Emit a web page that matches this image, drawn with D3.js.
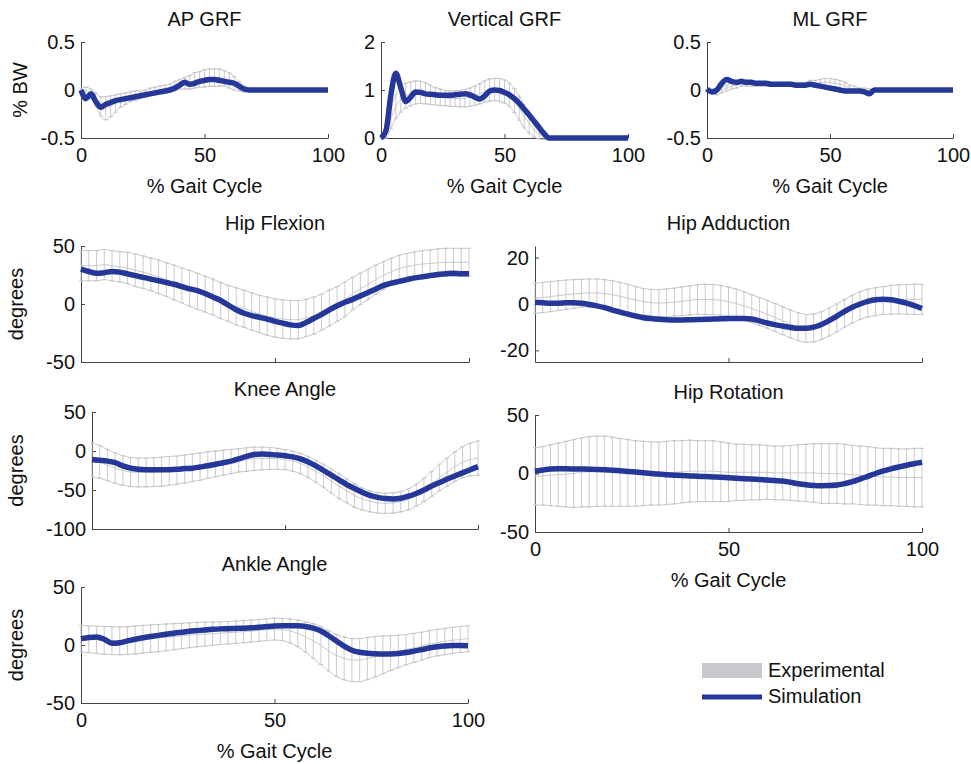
<!DOCTYPE html>
<html>
<head>
<meta charset="utf-8">
<script src="https://cdn.jsdelivr.net/npm/d3@7"></script>
<style>
  body { margin: 0; background: #fff; }
  svg text { font-family: "Liberation Sans", Arial, Helvetica, sans-serif; fill: #111; }
</style>
</head>
<body>
<div id="chart"></div>
<script>
// % gait cycle, sampled every 2 %
const pct = [0,2,4,6,8,10,12,14,16,18,20,22,24,26,28,30,32,34,36,38,40,42,44,46,48,
  50,52,54,56,58,60,62,64,66,68,70,72,74,76,78,80,82,84,86,88,90,92,94,96,98,100];

const titles = ['AP GRF', 'Vertical GRF', 'ML GRF', 'Hip Flexion', 'Hip Adduction',
  'Knee Angle', 'Hip Rotation', 'Ankle Angle'];
const legendLabels = ['Experimental', 'Simulation'];
const xTicks = [0, 50, 100];

// ground reaction forces (% BW); experimental data only during stance (0-68 %)
const apSim = [0,-0.09,-0.04,-0.12,-0.18,-0.15,-0.13,-0.11,-0.10,-0.09,-0.08,-0.07,-0.06,-0.05,-0.04,
  -0.03,-0.02,-0.01,0,0.02,0.05,0.08,0.06,0.07,0.09,0.10,0.11,0.11,0.10,0.09,0.08,0.07,0.04,0.01,0,
  0,0,0,0,0,0,0,0,0,0,0,0,0,0,0,0];
const apExpMean = [0,-0.01,-0.04,-0.10,-0.17,-0.19,-0.17,-0.14,-0.11,-0.09,-0.07,-0.06,-0.05,-0.04,
  -0.02,-0.01,0,0.01,0.02,0.04,0.06,0.07,0.08,0.10,0.11,0.12,0.13,0.13,0.13,0.12,0.10,0.07,0.04,0.01,0];
const apExpSd = [0.02,0.04,0.05,0.07,0.10,0.12,0.11,0.09,0.07,0.06,0.05,0.05,0.04,0.04,0.04,0.04,
  0.04,0.04,0.04,0.05,0.05,0.06,0.07,0.08,0.08,0.09,0.09,0.09,0.09,0.08,0.08,0.07,0.05,0.03,0.01];

const vgSim = [0,0.15,0.9,1.35,1.05,0.76,0.85,0.96,0.95,0.92,0.91,0.9,0.89,0.89,0.89,0.9,0.91,0.92,
  0.9,0.85,0.81,0.88,0.98,1.0,0.99,0.95,0.9,0.82,0.72,0.6,0.48,0.35,0.22,0.09,0,
  0,0,0,0,0,0,0,0,0,0,0,0,0,0,0,0];
const vgExpMean = [0,0.1,0.4,0.65,0.8,0.88,0.92,0.95,0.95,0.93,0.9,0.87,0.85,0.83,0.82,0.82,0.82,
  0.83,0.85,0.88,0.92,0.97,1.0,1.01,1.0,0.97,0.9,0.78,0.62,0.45,0.3,0.17,0.08,0.02,0];
const vgExpSd = [0.02,0.1,0.2,0.25,0.26,0.26,0.25,0.24,0.23,0.22,0.2,0.18,0.17,0.16,0.16,0.16,0.17,
  0.18,0.19,0.2,0.21,0.22,0.23,0.23,0.24,0.24,0.24,0.25,0.25,0.24,0.2,0.15,0.1,0.05,0.01];

const mlSim = [0.01,-0.02,0,0.07,0.11,0.09,0.08,0.09,0.08,0.08,0.07,0.07,0.07,0.06,0.06,0.06,0.06,
  0.06,0.05,0.05,0.05,0.06,0.05,0.04,0.03,0.02,0.01,0,-0.01,-0.01,-0.01,-0.01,-0.02,-0.04,0,
  0,0,0,0,0,0,0,0,0,0,0,0,0,0,0,0];
const mlExpMean = [0,-0.01,-0.02,0,0.02,0.04,0.05,0.06,0.06,0.06,0.06,0.06,0.06,0.06,0.06,0.06,0.06,
  0.06,0.06,0.06,0.06,0.07,0.07,0.08,0.08,0.08,0.07,0.06,0.04,0.02,0.01,0,0,0,0];
const mlExpSd = [0.01,0.02,0.03,0.03,0.03,0.03,0.03,0.02,0.02,0.02,0.02,0.02,0.02,0.02,0.02,0.02,
  0.02,0.02,0.02,0.02,0.02,0.03,0.03,0.03,0.04,0.04,0.04,0.04,0.04,0.03,0.03,0.02,0.02,0.01,0.01];

// joint angles (degrees)
const hfSim = [30,28,26.5,27,28,27.5,26,24.5,23,21.5,20,18.5,17,15,13,11.5,9,6,3,-1,-5,-8,-10,-11.5,
  -13,-15,-16.5,-18,-18.5,-16,-12.5,-9,-5,-1.5,1.5,4,7,10,13,16,18,19.5,21,22.5,23.5,24.5,25.5,26,
  26.5,26,26];
const hfExpMean = [33,33,33,34,33,32,31,29,27.5,25.5,23.5,21,18.5,16,13.5,11,8.5,6,3,0.5,-2,-4,-6.5,
  -8.5,-10.5,-12,-13,-13.5,-13.5,-12,-10,-7,-3.5,0,4,9,13,17,21,24.5,28,30.5,32,33.5,34.5,35,35.5,
  36,36,36,36];
const hfExpSd = [13,13,13,13,13,13,13.5,14,14,14,14.5,14.5,15,15,15.5,15.5,15.5,15.5,15.5,15.5,16,16,
  16,16,16.5,16.5,16.5,16.5,16.5,16,16,15.5,15.5,15,15,14,13.5,13,12.5,12,11.5,11.5,11.5,11.5,11.5,
  11.5,12,12,12,12,12];

const haSim = [0.7,0.5,0.3,0.3,0.5,0.5,0.3,-0.2,-0.8,-1.6,-2.6,-3.5,-4.4,-5.2,-5.9,-6.3,-6.6,-6.8,
  -6.9,-6.9,-6.8,-6.7,-6.6,-6.5,-6.4,-6.3,-6.2,-6.2,-6.5,-7.3,-8.2,-8.9,-9.5,-10.1,-10.5,-10.5,-10,
  -8.8,-7.2,-5.2,-3.2,-1.4,0,1.1,1.8,2,1.8,1.2,0.4,-0.7,-1.9];
const haExpMean = [2.5,2.8,3.2,3.6,4,4.3,4.6,4.8,4.8,4.5,4,3.3,2.5,1.7,1,0.6,0.4,0.5,0.8,1.2,1.6,1.9,
  2,1.9,1.6,1,0.2,-0.8,-2,-3.2,-4.4,-5.8,-7.2,-8.6,-9.8,-10.5,-10.3,-9.3,-7.8,-6,-4,-2.2,-0.7,0.4,
  1,1.5,1.8,2,2,2,2];
const haExpSd = [6.5,6.5,6.5,6.4,6.3,6.2,6,6,6,6,6,6,6,5.8,5.7,5.7,5.8,6,6,6.2,6.3,6.4,6.5,6.5,6.4,
  6.3,6.2,6.1,6,6,6,6,6,6,6,6,6,6,6,6,6,6,6,6,6,6,6.2,6.3,6.4,6.5,6.5];

const kneeSim = [-11,-12,-13,-15,-19,-22,-23.5,-24,-24,-24,-24,-23.5,-22.5,-22,-20.5,-19,-17,-15,-13,
  -10,-7,-4.5,-4,-4.5,-5,-6,-7.5,-10,-14,-19,-25,-31,-37,-43,-48,-53,-57,-59.5,-61,-61.5,-60.5,-58,
  -54.5,-50,-45,-40.5,-36,-32,-28,-24,-20];
const kneeExpMean = [-11,-14,-18,-22,-25,-27,-27.5,-27.5,-27,-26.5,-25.5,-24.5,-23,-21.5,-20,-18,
  -16.5,-15,-13.5,-12,-11,-10,-9.5,-9.5,-10,-11,-13,-16,-20.5,-26,-32,-38.5,-45,-51,-57,-61.5,-64.5,
  -66.5,-67,-66.5,-65,-62,-56.5,-50,-42,-34,-27,-20,-14.5,-11,-9];
const kneeExpSd = [22,21,20,19.5,19,18.5,18.5,18.5,18.5,18.5,18.5,18,18,17.5,17.5,17,16.5,16,15.5,15,
  15,15,14.5,14,13.5,13,13,13,13.5,14,15,15.5,16,15.5,15,14,13.5,13,13,13,13,13.5,14,15,16,17,18,19,
  20,21,22];

const hrSim = [2,3,3.8,4,4,3.9,3.8,3.7,3.5,3.2,2.8,2.3,1.8,1.2,0.6,0,-0.5,-1,-1.4,-1.8,-2.1,-2.4,-2.6,
  -2.9,-3.2,-3.6,-4,-4.4,-4.8,-5.2,-5.6,-6,-6.5,-7.5,-8.7,-9.6,-10.2,-10.4,-10.3,-9.8,-8.7,-7,-4.8,
  -2.4,0,2.2,4,5.6,7.1,8.4,9.6];
const hrExpMean = [-2.5,-2,-1.5,-1,-0.5,0,1,1.5,2,2,1.5,1,0.5,0,0,0,0,0.5,1,1.5,2,2,2,2,1.5,1,1,1,1,
  1,1,0.5,0.5,0.5,0.5,0.5,0.5,0,0,0,-0.5,-1,-1.5,-2,-2.5,-3,-3,-3.5,-3.5,-3.5,-3.5];
const hrExpSd = [24.5,25,26,27,28,29,29.5,30,30,30,29.5,29,28.5,28,27.5,27,27,27,27,26.5,26.5,26,26,
  26,25.5,25,24,24,23.5,23.5,23,23,23,23.5,24,24.5,25,25.5,25.5,25.5,25.5,25,25,25,24.5,24.5,24.5,
  24.5,24.5,25,25];

const ankleSim = [5.5,6.5,7,5,1.5,2,3.5,5,6.2,7.3,8.3,9.2,10.2,11,11.8,12.4,13,13.5,13.9,14.1,14.3,
  14.5,14.8,15.3,15.9,16.4,16.6,16.7,16.6,16,14.5,12,8,3.5,-1,-4.5,-6.3,-7.2,-7.6,-7.8,-7.7,-7.3,
  -6.5,-5.3,-4,-2.6,-1.5,-0.8,-0.5,-0.5,-0.6];
const ankleExpMean = [5.5,5,4.5,4,3.7,3.6,3.8,4.3,5,5.5,6,6.6,7.2,7.8,8.4,9,9.4,9.8,10.2,10.6,11,11.5,
  12,12.6,13.2,13.7,13.4,12.2,10,7,3.5,-0.5,-5,-9,-11.5,-13,-13,-11.7,-10.2,-8.5,-7,-5.5,-4,-2.5,
  -1,0.8,2,3,4,4.8,5.5];
const ankleExpSd = [11.5,11.5,11.8,12,12,12,12,12,11.9,11.8,11.7,11.5,11.2,11,10.7,10.5,10.3,10,9.8,
  9.7,9.6,9.5,9.5,9.4,9.4,9.4,9.6,10.3,11.5,13,15,16.3,17.5,18.2,18.5,18.5,18.5,18.2,17.5,16.3,15,
  14,13,12.5,12,11.6,11.4,11.3,11.2,11.2,11.2];

const width = 971, height = 764;
const simColor = '#26379a';
const expColor = '#c4c4c4';
const axisColor = '#444';
const fontSize = 20;

const panels = [
  { sim: apSim, mean: apExpMean, sd: apExpSd, yDomain: [-0.5, 0.5], yTicks: [-0.5, 0, 0.5],
    left: 81, top: 42, w: 247, h: 96, xLabels: true, yLabel: '% BW', yLabelX: 27 },
  { sim: vgSim, mean: vgExpMean, sd: vgExpSd, yDomain: [0, 2], yTicks: [0, 1, 2],
    left: 381, top: 42, w: 247, h: 96, xLabels: true },
  { sim: mlSim, mean: mlExpMean, sd: mlExpSd, yDomain: [-0.5, 0.5], yTicks: [-0.5, 0, 0.5],
    left: 707, top: 42, w: 246, h: 96, xLabels: true },
  { sim: hfSim, mean: hfExpMean, sd: hfExpSd, yDomain: [-50, 50], yTicks: [-50, 0, 50],
    left: 81, top: 246, w: 388, h: 116, xLabels: false, yLabel: 'degrees', yLabelX: 23 },
  { sim: haSim, mean: haExpMean, sd: haExpSd, yDomain: [-25, 25], yTicks: [-20, 0, 20],
    left: 535, top: 246, w: 387, h: 116, xLabels: false },
  { sim: kneeSim, mean: kneeExpMean, sd: kneeExpSd, yDomain: [-100, 50], yTicks: [-100, -50, 0, 50],
    left: 92, top: 412, w: 386, h: 117, xLabels: false, yLabel: 'degrees', yLabelX: 23 },
  { sim: hrSim, mean: hrExpMean, sd: hrExpSd, yDomain: [-50, 50], yTicks: [-50, 0, 50],
    left: 535, top: 415, w: 387, h: 117, xLabels: true },
  { sim: ankleSim, mean: ankleExpMean, sd: ankleExpSd, yDomain: [-50, 50], yTicks: [-50, 0, 50],
    left: 81, top: 587, w: 387, h: 116, xLabels: true, yLabel: 'degrees', yLabelX: 23 }
];

const svg = d3.select('#chart').append('svg')
  .attr('width', width)
  .attr('height', height);

function styleAxis(sel) {
  sel.selectAll('.domain').attr('stroke', axisColor).attr('stroke-width', 1);
  sel.selectAll('.tick line').attr('stroke', axisColor).attr('stroke-width', 1);
  sel.selectAll('.tick text').attr('font-size', fontSize).attr('fill', '#111')
    .attr('font-family', '"Liberation Sans", Arial, sans-serif');
}

panels.forEach((p, idx) => {
  const x = d3.scaleLinear().domain([0, 100]).range([0, p.w]);
  const y = d3.scaleLinear().domain(p.yDomain).range([p.h, 0]);
  const g = svg.append('g').attr('transform', `translate(${p.left},${p.top})`);

  // axes (MATLAB style: left and bottom only, ticks pointing in)
  const xAxis = d3.axisBottom(x).tickValues(xTicks).tickSize(-4).tickSizeOuter(0).tickPadding(10)
    .tickFormat(p.xLabels ? (d => String(d)) : () => '');
  const yAxis = d3.axisLeft(y).tickValues(p.yTicks).tickSize(-4).tickSizeOuter(0).tickPadding(6)
    .tickFormat(d => String(d));
  g.append('g').attr('transform', `translate(0,${p.h})`).call(xAxis).call(styleAxis);
  g.append('g').call(yAxis).call(styleAxis);

  // experimental mean +/- sd as error bars
  const exp = p.mean.map((m, i) => ({ x: pct[i], m: m, lo: m - p.sd[i], hi: m + p.sd[i] }));
  const eg = g.append('g').attr('stroke', expColor).attr('stroke-width', 0.9).attr('fill', 'none');
  eg.selectAll('line.bar').data(exp).join('line').attr('class', 'bar')
    .attr('x1', d => x(d.x)).attr('x2', d => x(d.x))
    .attr('y1', d => y(d.lo)).attr('y2', d => y(d.hi));
  ['lo', 'hi'].forEach(k => {
    eg.selectAll('line.cap-' + k).data(exp).join('line').attr('class', 'cap-' + k)
      .attr('x1', d => x(d.x) - 2).attr('x2', d => x(d.x) + 2)
      .attr('y1', d => y(d[k])).attr('y2', d => y(d[k]));
  });
  ['m', 'lo', 'hi'].forEach(k => {
    eg.append('path').datum(exp)
      .attr('d', d3.line().x(d => x(d.x)).y(d => y(d[k])).curve(d3.curveMonotoneX));
  });

  // simulation
  g.append('path').datum(p.sim.map((v, i) => ({ x: pct[i], v: v })))
    .attr('fill', 'none').attr('stroke', simColor).attr('stroke-width', 5.5)
    .attr('stroke-linejoin', 'round').attr('stroke-linecap', 'butt')
    .attr('d', d3.line().x(d => x(d.x)).y(d => y(d.v)).curve(d3.curveMonotoneX));

  // title
  g.append('text').attr('x', p.w / 2).attr('y', -16).attr('text-anchor', 'middle')
    .attr('font-size', fontSize).text(titles[idx]);

  if (p.xLabels) {
    g.append('text').attr('x', p.w / 2).attr('y', p.h + 55).attr('text-anchor', 'middle')
      .attr('font-size', fontSize).text('% Gait Cycle');
  }
  if (p.yLabel) {
    svg.append('text')
      .attr('transform', `translate(${p.yLabelX},${p.top + p.h / 2}) rotate(-90)`)
      .attr('text-anchor', 'middle').attr('font-size', fontSize).text(p.yLabel);
  }
});

// legend
const lg = svg.append('g').attr('transform', 'translate(702,663)');
lg.append('rect').attr('x', 0).attr('y', 0).attr('width', 60).attr('height', 15).attr('fill', '#c9c9cd');
lg.append('line').attr('x1', 0).attr('x2', 60).attr('y1', 34).attr('y2', 34)
  .attr('stroke', simColor).attr('stroke-width', 5);
lg.selectAll('text.leg').data(legendLabels).join('text').attr('class', 'leg')
  .attr('x', 66).attr('y', (d, i) => 14 + i * 26)
  .attr('font-size', fontSize).text(d => d);
</script>
</body>
</html>
